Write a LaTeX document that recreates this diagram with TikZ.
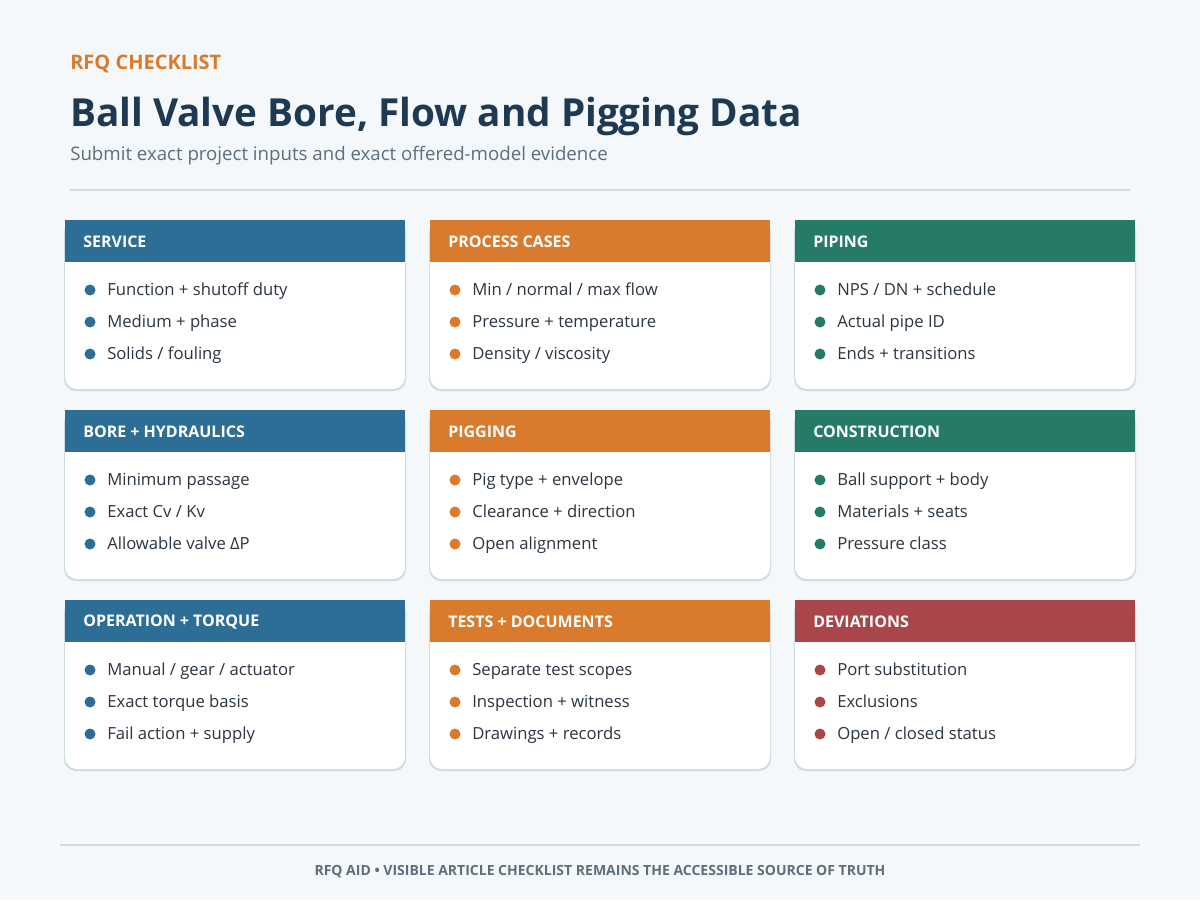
\documentclass[tikz,border=0pt]{standalone}
\usepackage{fontspec}
\setmainfont{Open Sans}
\usetikzlibrary{positioning}
\definecolor{rfqbg}{HTML}{F4F8FA}
\definecolor{rfqblue}{HTML}{2C6E96}
\definecolor{rfqorange}{HTML}{DA7A2C}
\definecolor{rfqgreen}{HTML}{267B68}
\definecolor{rfqred}{HTML}{A8464A}
\definecolor{rfqnavy}{HTML}{1D3A52}
\definecolor{rfqgrey}{HTML}{5E6E7C}
\definecolor{rfqtext}{HTML}{2A3540}
\definecolor{rfqline}{HTML}{CCDCE0}
\tikzset{
  cardhead/.style={font=\fontsize{12}{14}\selectfont\bfseries, text=white, anchor=west, inner sep=0pt},
  carditem/.style={font=\fontsize{12.5}{15}\selectfont, text=rfqtext, anchor=west, inner sep=0pt,
    text height=1.6ex, text depth=0.4ex},
}
% one card: x, y, colour, name, title, three items
\newcommand{\rfqcard}[8]{
  \fill[rfqline, rounded corners=9] (#1-1,#2) rectangle (#1+341,#2+171);
  \fill[white, rounded corners=9] (#1,#2) rectangle (#1+340,#2+169);
  \fill[#3] (#1,#2) rectangle (#1+340,#2+42);
  \node[cardhead] (#4) at (#1+18,#2+22) {#5};
  \foreach \txt [count=\i] in {#6,#7,#8} {
    \fill[#3] (#1+25,#2+38+32*\i) circle (5.5);
    \node[carditem] (#4-\i) at (#1+42,#2+39+32*\i) {\txt};
  }
}
\begin{document}
\begin{tikzpicture}[x=0.75pt, y=-0.75pt]
\fill[rfqbg] (0,0) rectangle (1200,900);
\useasboundingbox (0,0) rectangle (1200,900);
% heading
\node[anchor=west, inner sep=0pt, text=rfqorange, font=\fontsize{15}{18}\selectfont\bfseries] (kicker) at (70,64) {RFQ CHECKLIST};
\node[anchor=west, inner sep=0pt, text=rfqnavy, font=\fontsize{29}{36}\selectfont\bfseries] (title) at (70,116) {Ball Valve Bore, Flow and Pigging Data};
\node[anchor=west, inner sep=0pt, text=rfqgrey, font=\fontsize{14}{18}\selectfont] (subtitle) at (70,156) {Submit exact project inputs and exact offered-model evidence};
\draw[rfqline, line width=1.2pt] (70,190) -- (1130,190);
% cards
\rfqcard{65}{220}{rfqblue}{service}{SERVICE}{Function + shutoff duty}{Medium + phase}{Solids / fouling}
\rfqcard{430}{220}{rfqorange}{process}{PROCESS CASES}{Min / normal / max flow}{Pressure + temperature}{Density / viscosity}
\rfqcard{795}{220}{rfqgreen}{piping}{PIPING}{NPS / DN + schedule}{Actual pipe ID}{Ends + transitions}
\rfqcard{65}{410}{rfqblue}{bore}{BORE + HYDRAULICS}{Minimum passage}{Exact Cv / Kv}{Allowable valve ΔP}
\rfqcard{430}{410}{rfqorange}{pigging}{PIGGING}{Pig type + envelope}{Clearance + direction}{Open alignment}
\rfqcard{795}{410}{rfqgreen}{construction}{CONSTRUCTION}{Ball support + body}{Materials + seats}{Pressure class}
\rfqcard{65}{600}{rfqblue}{operation}{OPERATION + TORQUE}{Manual / gear / actuator}{Exact torque basis}{Fail action + supply}
\rfqcard{430}{600}{rfqorange}{tests}{TESTS + DOCUMENTS}{Separate test scopes}{Inspection + witness}{Drawings + records}
\rfqcard{795}{600}{rfqred}{deviations}{DEVIATIONS}{Port substitution}{Exclusions}{Open / closed status}
% footer
\draw[rfqline, line width=1.2pt] (60,845) -- (1140,845);
\node[text=rfqgrey, font=\fontsize{10.5}{13}\selectfont\bfseries] (footer) at (600,872) {RFQ AID • VISIBLE ARTICLE CHECKLIST REMAINS THE ACCESSIBLE SOURCE OF TRUTH};
\end{tikzpicture}
\end{document}
